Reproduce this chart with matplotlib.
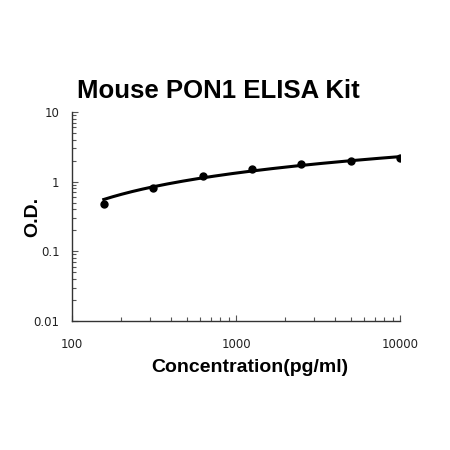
import numpy as np
import matplotlib
matplotlib.use("Agg")
import matplotlib.pyplot as plt
from matplotlib.ticker import LogLocator, NullFormatter, FixedLocator, FixedFormatter

concentration = [156.25, 312.5, 625, 1250, 2500, 5000, 10000]
od = [0.48, 0.80, 1.20, 1.50, 1.81, 1.96, 2.20]
x_ticks = [100, 1000, 10000]
x_tick_labels = ["100", "1000", "10000"]
y_ticks = [0.01, 0.1, 1, 10]
y_tick_labels = ["0.01", "0.1", "1", "10"]

fig = plt.figure(figsize=(4.5, 4.5), dpi=100)
ax = fig.add_axes([0.16, 0.287, 0.729, 0.464])

lx = np.log10(concentration)
coef = np.polyfit(lx, od, 1)
xs = np.linspace(lx.min(), lx.max(), 200)
ax.plot(10**xs, np.polyval(coef, xs), color="black", lw=2.2)
ax.scatter(concentration, od, color="black", s=25, zorder=3)

ax.set_xscale("log")
ax.set_yscale("log")
ax.set_xlim(100, 10000)
ax.set_ylim(0.01, 10)

for s in ["top", "right"]:
    ax.spines[s].set_visible(False)
for s in ["left", "bottom"]:
    ax.spines[s].set_color("#333333")
    ax.spines[s].set_linewidth(1.0)

ax.xaxis.set_major_locator(FixedLocator(x_ticks))
ax.xaxis.set_major_formatter(FixedFormatter(x_tick_labels))
ax.yaxis.set_major_locator(FixedLocator(y_ticks))
ax.yaxis.set_major_formatter(FixedFormatter(y_tick_labels))
ax.xaxis.set_minor_locator(LogLocator(base=10, subs=np.arange(2, 10)))
ax.yaxis.set_minor_locator(LogLocator(base=10, subs=np.arange(2, 10)))
ax.xaxis.set_minor_formatter(NullFormatter())
ax.yaxis.set_minor_formatter(NullFormatter())
ax.tick_params(which="both", direction="in", color="#555555", width=0.8)
ax.tick_params(which="major", length=4)
ax.tick_params(which="minor", length=3)
ax.tick_params(axis="x", which="major", labelsize=8.5, pad=12, labelcolor="#222222")
ax.tick_params(axis="y", which="major", labelsize=8.5, pad=9, labelcolor="#222222")

fig.text(250 / 450, 1 - 367 / 450, "Concentration(pg/ml)", ha="center", va="center",
         fontsize=14, fontweight="bold", family="Liberation Sans")
fig.text(33 / 450, 1 - 217 / 450, "O.D.", ha="center", va="center", rotation=90,
         fontsize=14, fontweight="bold", family="Liberation Sans")
fig.text(0.485, 0.798, "Mouse PON1 ELISA Kit", ha="center", va="center",
         fontsize=18.5, fontweight="bold", family="Liberation Sans")

fig.savefig("out.png", dpi=100, facecolor="white")
